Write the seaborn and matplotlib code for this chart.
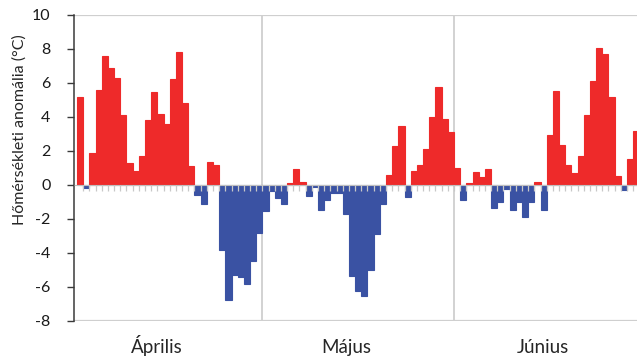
import numpy as np
import pandas as pd
import matplotlib
matplotlib.use("Agg")
import matplotlib.pyplot as plt
import matplotlib.transforms as mtransforms
import seaborn as sns

# ---- data (daily temperature anomaly, °C) ----
april = [5.2, -0.15, 1.9, 5.6, 7.6, 6.9, 6.3, 4.1, 1.3, 0.8, 1.7, 3.85, 5.5, 4.2, 3.6,
         6.25, 7.8, 4.85, 1.1, -0.6, -1.1, 1.35, 1.2, -3.8, -6.75, -5.3, -5.4, -5.85,
         -4.45, -2.8]
may = [-1.55, -0.37, -0.77, -1.1, 0.1, 0.95, 0.2, -0.62, -0.12, -1.45, -0.87, -0.48,
       -0.48, -1.7, -5.36, -6.26, -6.54, -5.02, -2.87, -1.12, 0.6, 2.27, 3.5, -0.72,
       0.8, 1.2, 2.1, 4.02, 5.75, 3.9, 3.1]
june = [1.0, -0.87, 0.1, 0.76, 0.45, 0.94, -1.36, -0.98, -0.25, -1.45, -1.0, -1.9,
        -1.02, 0.2, -1.46, 2.95, 5.54, 2.36, 1.15, 0.72, 1.72, 4.1, 6.1, 8.07, 7.7,
        5.16, 0.52, -0.32, 1.52, 3.19]
months = ["Április", "Május", "Június"]
month_label_pos = [12.45, 43.1, 74.9]
y_label = "Hőmérsékleti anomália (°C)"
y_ticks = list(range(-8, 11, 2))

values = april + may + june
df = pd.DataFrame({"day": np.arange(len(values)), "anom": values})
df["sign"] = np.where(df["anom"] >= 0, "pos", "neg")

RED = "#EE2A2A"
BLUE = "#3A52A3"
GRID = "#CFCFCF"

sns.set_style("white")
plt.rcParams["font.family"] = ["Lato", "DejaVu Sans"]

fig = plt.figure(figsize=(6.37, 3.58), dpi=100)
ax = fig.add_axes([74 / 637, 37 / 358, 565.4 / 637, 306 / 358])

sns.barplot(data=df, x="day", y="anom", hue="sign", palette={"pos": RED, "neg": BLUE},
            dodge=False, width=1.0, native_scale=True, legend=False, linewidth=0,
            saturation=1, ax=ax)
for p in ax.patches:
    p.set_edgecolor(p.get_facecolor())
    p.set_linewidth(0.8)

n = len(values)
ax.set_xlim(-0.985, n - 0.5)
ax.set_ylim(-8, 10)

# month separators and frame lines
sep1 = len(april) - 0.5
sep2 = len(april) + len(may) - 0.5
for s in (sep1, sep2):
    ax.axvline(s, color=GRID, lw=1.3, zorder=0.5)
ax.axhline(10, color=GRID, lw=1.6, zorder=0.5)
ax.axhline(-8, color=GRID, lw=1.6, zorder=0.5)

# spines
for side in ("top", "right"):
    ax.spines[side].set_visible(False)
ax.spines["left"].set_color("#3a3a3a")
ax.spines["left"].set_linewidth(1.1)
ax.spines["bottom"].set_position(("data", 0))
ax.spines["bottom"].set_color("#BFBFBF")
ax.spines["bottom"].set_linewidth(0.8)
ax.set_axisbelow(False)

ax.set_yticks(y_ticks)
ax.set_yticklabels([str(t) for t in y_ticks])
ax.tick_params(axis="y", direction="out", length=5, width=1.0, color="#3a3a3a",
               labelsize=11.5, labelcolor="#1a1a1a", pad=12, left=True)
ax.set_xticks(np.arange(0.5, n - 1, 1.0))
ax.set_xticklabels([])
ax.tick_params(axis="x", direction="out", length=4.5, width=0.9, color="#C8C8C8",
               bottom=True)
ax.set_xlabel("")
ax.set_ylabel(y_label, fontsize=11.5, color="#262626")
ax.yaxis.set_label_coords(-0.084, 0.624)

trans = mtransforms.blended_transform_factory(ax.transData, ax.transAxes)
for m, pos in zip(months, month_label_pos):
    ax.text(pos, -0.104, m, transform=trans, ha="center", va="baseline",
            fontsize=13.5, color="#262626")

fig.savefig("out.png", dpi=100)
